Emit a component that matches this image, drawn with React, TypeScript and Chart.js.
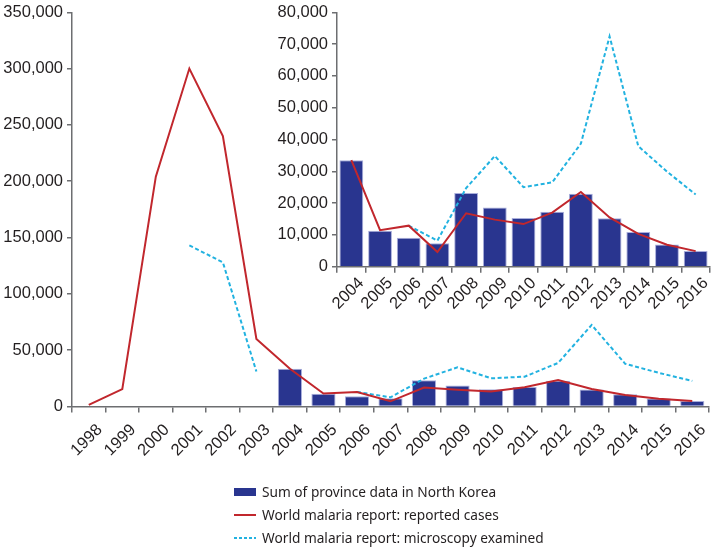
import React, { useEffect, useRef } from "react";
import { Chart, registerables } from "chart.js";

Chart.register(...registerables);

const years = ["1998","1999","2000","2001","2002","2003","2004","2005","2006","2007","2008","2009","2010","2011","2012","2013","2014","2015","2016"];
const provinceSum = [null, null, null, null, null, null, 33500, 11300, 9100, 7400, 23200, 18600, 15300, 17300, 22900, 15200, 10900, 7000, 4900];
const reportedCases = [1500, 15500, 204000, 300000, 240000, 60000, 33500, 11500, 12900, 4600, 16800, 14800, 13400, 17000, 23500, 15500, 10300, 6900, 4900];
const microscopyExamined = [null, null, null, 143000, 128000, 31000, null, null, 12900, 8200, 24700, 34800, 25000, 26500, 38700, 72400, 37900, 29900, 22700];

const insetStart = 6; // 2004 onward
const insetYears = years.slice(insetStart);
const insetProvince = provinceSum.slice(insetStart);
const insetReported = reportedCases.slice(insetStart);
const insetMicroscopy = microscopyExamined.slice(insetStart);

const legendLabels = [
  "Sum of province data in North Korea",
  "World malaria report: reported cases",
  "World malaria report: microscopy examined",
];

const NAVY = "#29358f";
const RED = "#c1272d";
const CYAN = "#22b2e0";
const AXIS = "#6d6e71";
const TEXT = "#231f20";
const TICK_FONT = { family: "'Liberation Sans', Arial, sans-serif", size: 16.5, lineHeight: 1 };

function buildConfig(labels: string[], bars: any[], reported: any[], micro: any[], opts: { yMax: number; yStep: number; yWidth: number; xHeight: number; barPct: number; padRight: number; labelOffset: number; labelPad: number; }) {
  return {
    type: "bar" as const,
    data: {
      labels,
      datasets: [
        {
          type: "line" as const,
          label: legendLabels[1],
          data: reported,
          borderColor: RED,
          borderWidth: 2,
          pointRadius: 0,
          tension: 0,
          fill: false,
          spanGaps: false,
          order: 1,
        },
        {
          type: "line" as const,
          label: legendLabels[2],
          data: micro,
          borderColor: CYAN,
          borderWidth: 2,
          borderDash: [4, 2.5],
          pointRadius: 0,
          tension: 0,
          fill: false,
          spanGaps: false,
          order: 2,
        },
        {
          type: "bar" as const,
          label: legendLabels[0],
          data: bars,
          backgroundColor: NAVY,
          borderColor: "#a9aedb",
          borderWidth: 1,
          barPercentage: opts.barPct,
          categoryPercentage: 1,
          order: 3,
        },
      ],
    },
    options: {
      responsive: false,
      animation: false as const,
      devicePixelRatio: 1,
      layout: { padding: { left: 0, right: opts.padRight, top: 0, bottom: 0 } },
      plugins: { legend: { display: false }, tooltip: { enabled: false } },
      scales: {
        x: {
          offset: true,
          grid: { offset: true, drawOnChartArea: false, drawTicks: true, tickLength: 6, color: AXIS, lineWidth: 1.5 },
          border: { color: AXIS, width: 1.5 },
          ticks: { color: TEXT, font: TICK_FONT, minRotation: 45, maxRotation: 45, autoSkip: false, padding: opts.labelPad, labelOffset: opts.labelOffset },
          afterFit: (s: any) => { s.height = opts.xHeight; },
        },
        y: {
          min: 0,
          max: opts.yMax,
          grid: { drawOnChartArea: false, drawTicks: true, tickLength: 5, color: AXIS, lineWidth: 1.5 },
          border: { color: AXIS, width: 1.5 },
          ticks: {
            stepSize: opts.yStep,
            color: TEXT,
            font: TICK_FONT,
            padding: 4,
            callback: (v: any) => Number(v).toLocaleString("en-US"),
          },
          afterFit: (s: any) => { s.width = opts.yWidth; },
        },
      },
    },
  };
}

function ChartCanvas({ config, width, height, style }: { config: any; width: number; height: number; style: React.CSSProperties }) {
  const ref = useRef<HTMLCanvasElement | null>(null);
  useEffect(() => {
    if (!ref.current) return;
    const chart = new Chart(ref.current, config);
    return () => chart.destroy();
  }, []);
  return <canvas ref={ref} width={width} height={height} style={{ position: "absolute", width, height, ...style }} />;
}

function Swatch({ kind }: { kind: number }) {
  if (kind === 0) {
    return (
      <svg width={24} height={10} style={{ display: "block" }}>
        <rect x={1} y={1} width={22} height={8} fill={NAVY} />
      </svg>
    );
  }
  return (
    <svg width={24} height={10} style={{ display: "block" }}>
      <line x1={1} y1={5} x2={23} y2={5} stroke={kind === 1 ? RED : CYAN} strokeWidth={2} strokeDasharray={kind === 2 ? "3,2" : undefined} />
    </svg>
  );
}

export default function App() {
  const mainConfig = buildConfig(years, provinceSum, reportedCases, microscopyExamined, {
    yMax: 350000, yStep: 50000, yWidth: 72, xHeight: 547 - 406.5, barPct: 0.72, padRight: 3, labelOffset: 11, labelPad: 9,
  });
  const insetConfig = buildConfig(insetYears, insetProvince, insetReported, insetMicroscopy, {
    yMax: 80000, yStep: 10000, yWidth: 77, xHeight: 320 - 266.7, barPct: 0.83, padRight: 3, labelOffset: 10, labelPad: 2,
  });
  return (
    <div style={{ position: "absolute", left: 0, top: 0, width: 713, height: 547, background: "#fff", overflow: "hidden" }}>
      <ChartCanvas config={mainConfig} width={713} height={547} style={{ left: 0, top: 0 }} />
      <ChartCanvas config={insetConfig} width={453} height={320} style={{ left: 260, top: 0 }} />
      <div style={{ position: "absolute", left: 233, top: 480, fontFamily: "'Noto Sans', 'Open Sans', sans-serif", fontSize: 13.7, color: TEXT }}>
        {legendLabels.map((t, i) => (
          <div key={i} style={{ display: "flex", alignItems: "center", height: 23 }}>
            <Swatch kind={i} />
            <span style={{ marginLeft: 5, whiteSpace: "nowrap" }}>{t}</span>
          </div>
        ))}
      </div>
    </div>
  );
}
